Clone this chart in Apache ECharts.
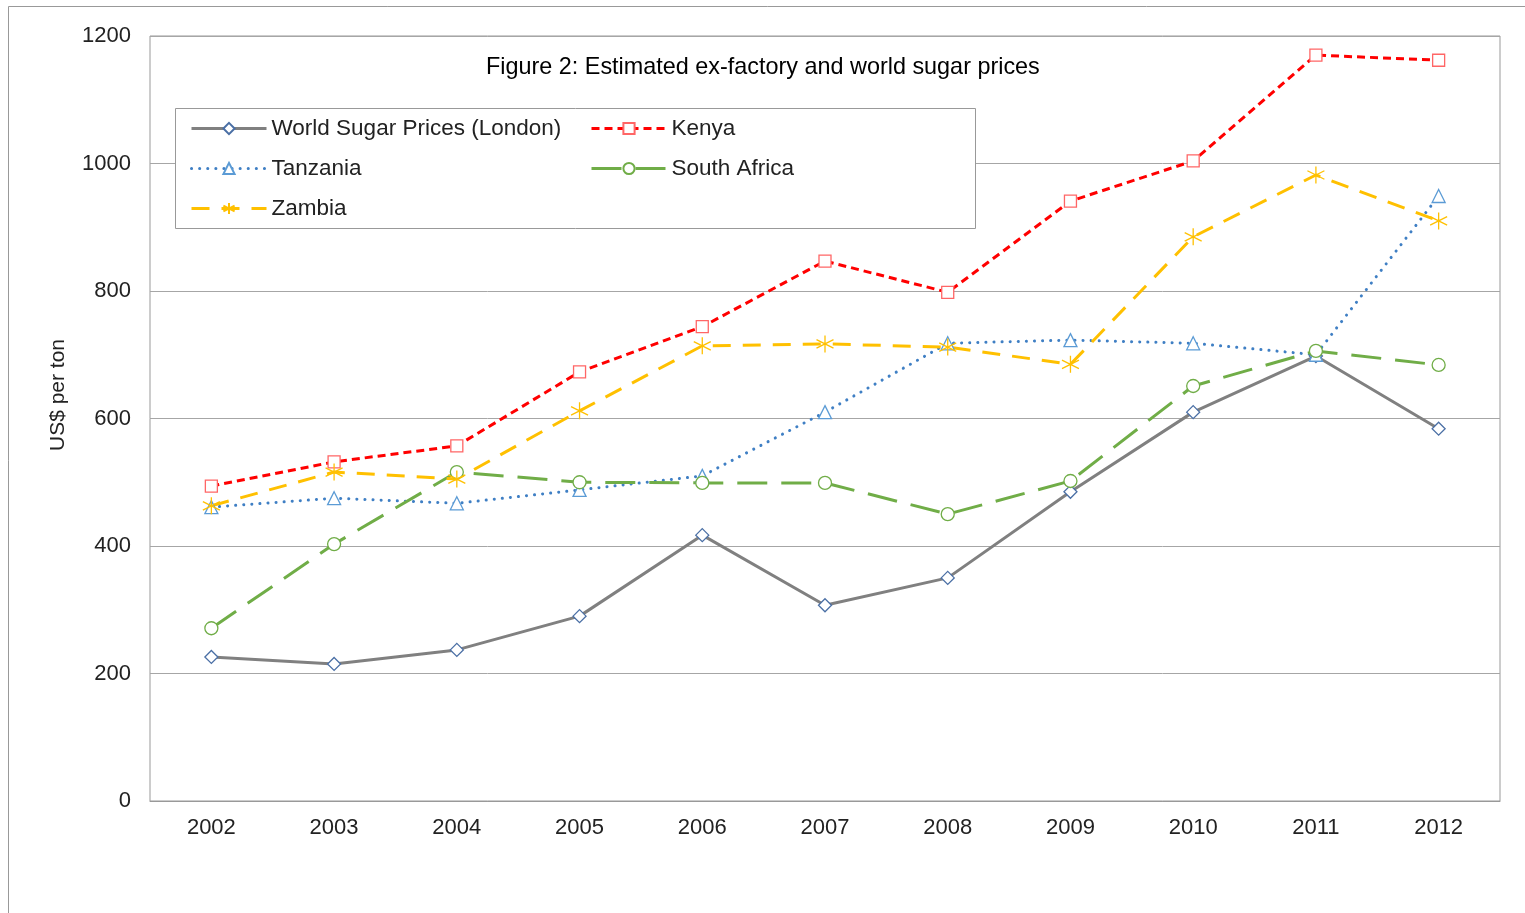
<!DOCTYPE html>
<html>
<head>
<meta charset="utf-8">
<script src="https://cdn.jsdelivr.net/npm/echarts@6/dist/echarts.min.js"></script>
<style>
html,body{margin:0;padding:0;background:#fff;}
#chart{width:1525px;height:913px;}
</style>
</head>
<body>
<div id="chart"></div>
<script>
const years = ['2002','2003','2004','2005','2006','2007','2008','2009','2010','2011','2012'];
const worldSugar = [226, 215, 237, 290, 417, 307, 350, 485, 610, 698, 584];
const kenya = [494, 532, 557, 673, 744, 847, 798, 941, 1004, 1170, 1162];
const tanzania = [461, 475, 467, 488, 510, 610, 718, 723, 718, 700, 949];
const southAfrica = [271, 403, 516, 500, 499, 499, 450, 502, 651, 706, 684];
const zambia = [463, 516, 505, 612, 714, 717, 712, 685, 885, 982, 910];
const yTicks = [0, 200, 400, 600, 800, 1000, 1200];

const FONT = '"Liberation Sans", Arial, sans-serif';
const starPath = 'path://M0,-10L0,10M-8.66,-5L8.66,5M-8.66,5L8.66,-5';

function mk(name, data, color, lineType, symbol, symColor, symSize, cap) {
  return {
    name: name, type: 'line', data: data,
    symbol: symbol, symbolSize: symSize, showSymbol: true,
    lineStyle: {color: color, width: 3, type: lineType, cap: cap || 'butt'},
    itemStyle: {color: '#fff', borderColor: symColor, borderWidth: 1.3},
    emphasis: {disabled: true},
    animation: false
  };
}

const chart = echarts.init(document.getElementById('chart'));
const zSeries = mk('Zambia', zambia, '#ffc000', [18, 12], starPath, '#ffc000', 17);
zSeries.itemStyle = {color: 'none', borderColor: '#ffc000', borderWidth: 1.3};

const legendCommon = {
  orient: 'vertical', top: 117, itemWidth: 75, itemHeight: 14, itemGap: 17, padding: 0, z: 10,
  textStyle: {fontFamily: FONT, fontSize: 22.5, color: '#222', padding: [0, 0, 0, 0]},
  lineStyle: {width: 3}
};

chart.setOption({
  backgroundColor: '#fff',
  animation: false,
  title: {
    text: 'Figure 2: Estimated ex-factory and world sugar prices',
    left: 486, top: 56, padding: 0,
    textStyle: {fontFamily: FONT, fontSize: 23.4, fontWeight: 'normal', color: '#000'}
  },
  graphic: [
    {type: 'rect', shape: {x: 8.5, y: 6.5, width: 1600, height: 1000}, style: {fill: 'none', stroke: '#999', lineWidth: 1}, z: -10},
    {type: 'rect', shape: {x: 175.5, y: 108.5, width: 800, height: 120}, style: {fill: '#fff', stroke: '#999', lineWidth: 1}, z: 5},
    {type: 'text', x: 58, y: 395, rotation: Math.PI / 2, style: {text: 'US$ per ton', font: '21px ' + FONT, fill: '#222', align: 'center', verticalAlign: 'middle'}}
  ],
  legend: [
    Object.assign({data: ['World Sugar Prices (London)', 'Tanzania', 'Zambia'], left: 190}, legendCommon),
    Object.assign({data: ['Kenya', 'South Africa'], left: 590}, legendCommon)
  ],
  grid: {left: 150, right: 25, top: 36, bottom: 112, show: true, borderColor: '#999', borderWidth: 1, backgroundColor: 'transparent'},
  xAxis: {
    type: 'category', data: years, boundaryGap: true,
    axisLine: {show: true, lineStyle: {color: '#999'}},
    axisTick: {show: false},
    axisLabel: {fontFamily: FONT, fontSize: 22, color: '#222', margin: 16}
  },
  yAxis: {
    type: 'value', min: yTicks[0], max: yTicks[yTicks.length - 1], interval: 200,
    axisLine: {show: false}, axisTick: {show: false},
    splitLine: {show: true, lineStyle: {color: '#a6a6a6', width: 1}},
    axisLabel: {fontFamily: FONT, fontSize: 22, color: '#222', margin: 19, formatter: function (v) { return String(v); }}
  },
  series: [
    mk('World Sugar Prices (London)', worldSugar, '#808080', 'solid', 'diamond', '#4a6fa5', 13),
    mk('Kenya', kenya, '#ff0000', [8, 5], 'rect', '#ff6666', 12),
    mk('Tanzania', tanzania, '#3f7fc4', [0.1, 8], 'triangle', '#5b9bd5', 13, 'round'),
    mk('South Africa', southAfrica, '#70ad47', [30, 14], 'circle', '#70ad47', 13),
    zSeries
  ]
});
</script>
</body>
</html>
